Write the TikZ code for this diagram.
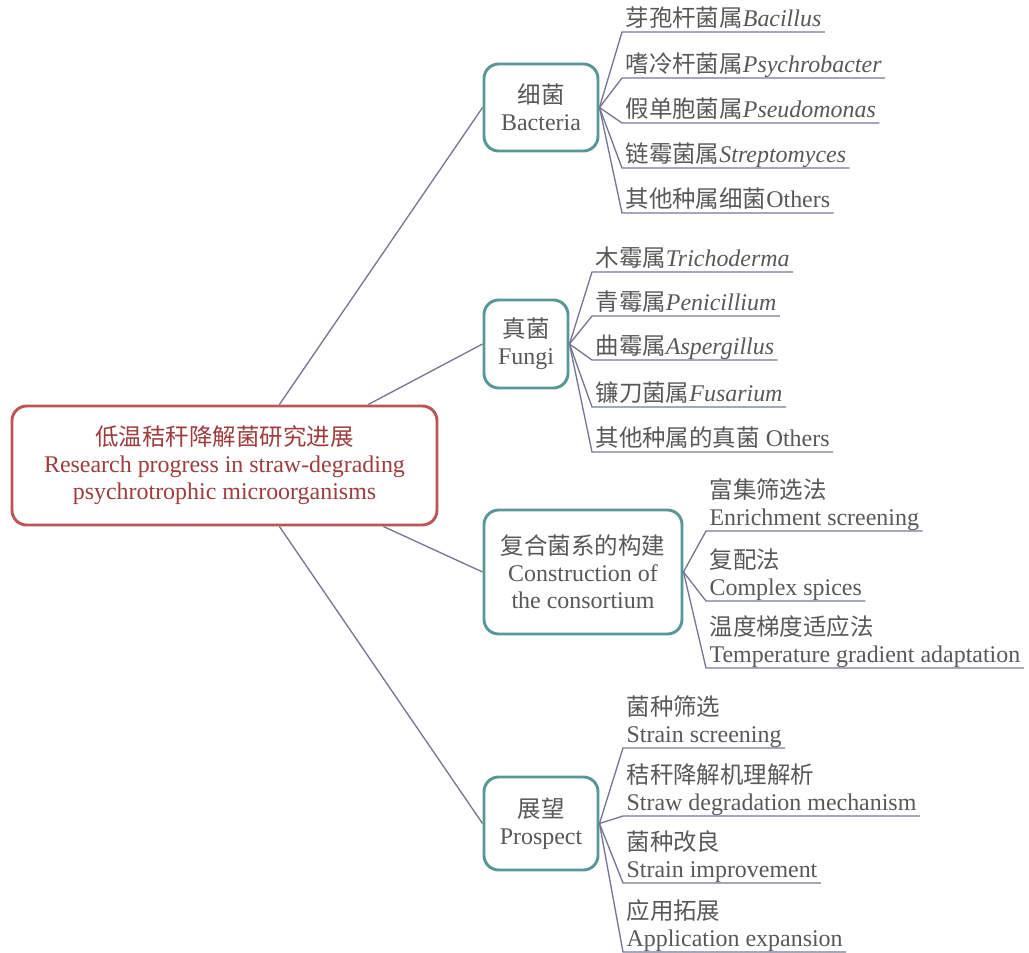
\documentclass[tikz,border=0pt]{standalone}
\usepackage{fontspec}
\setmainfont{Liberation Serif}
\newfontfamily\cjk[Scale=0.98]{Noto Sans CJK SC}
\newcommand\zh[1]{{\cjk #1}}
\definecolor{rootred}{RGB}{192,84,84}
\definecolor{roottext}{RGB}{158,60,62}
\definecolor{boxteal}{RGB}{88,150,152}
\definecolor{twiggray}{RGB}{116,120,150}
\definecolor{textgray}{RGB}{88,88,88}

\begin{document}
\begin{tikzpicture}[x=0.75pt, y=-0.75pt,
  every node/.style={font=\fontsize{17.95pt}{20.3pt}\selectfont, text=textgray},
  rootbox/.style={draw=rootred, line width=2.2pt, rounded corners=11pt, align=center,
    text=roottext, fill=white, inner sep=0pt},
  groupbox/.style={draw=boxteal, line width=2.2pt, rounded corners=11pt, align=center,
    fill=white, inner sep=0pt},
  leaf/.style={anchor=south west, align=left, inner xsep=2.5pt, inner ysep=0pt, text depth=3.6pt},
  limb/.style={draw=twiggray, line width=1pt},
  twig/.style={draw=twiggray, line width=1pt}]
  \useasboundingbox (0,0) rectangle (1029,953);

  % root and the four groups
  \node (root) [rootbox, minimum width=318.75pt, minimum height=89.25pt] at (224.5,465.5)
    {\zh{低温秸秆降解菌研究进展}\\Research progress in straw-degrading\\psychrotrophic microorganisms};
  \node (bac) [groupbox, minimum width=85.5pt, minimum height=65.25pt] at (541,107.5) {\zh{细菌}\\Bacteria};
  \node (fun) [groupbox, minimum width=63pt, minimum height=66pt] at (526,344) {\zh{真菌}\\Fungi};
  \node (con) [groupbox, minimum width=148.5pt, minimum height=93pt] at (583,572)
    {\zh{复合菌系的构建}\\Construction of\\the consortium};
  \node (pro) [groupbox, minimum width=85.5pt, minimum height=69.75pt] at (541,823.5) {\zh{展望}\\Prospect};

  \draw [limb] (root.48) -- (bac.west);
  \draw [limb] (root.23) -- (fun.west);
  \draw [limb] (root.-21) -- (con.west);
  \draw [limb] (root.-48) -- (pro.west);

  % bacteria
  \node (b1) [leaf] at (622,32) {\zh{芽孢杆菌属}\textit{Bacillus}};
  \node (b2) [leaf] at (622,78) {\zh{嗜冷杆菌属}\textit{Psychrobacter}};
  \node (b3) [leaf] at (622,123) {\zh{假单胞菌属}\textit{Pseudomonas}};
  \node (b4) [leaf] at (622,168) {\zh{链霉菌属}\textit{Streptomyces}};
  \node (b5) [leaf] at (622,213) {\zh{其他种属细菌}Others};
  \foreach \i in {1,...,5}
    \draw [twig] (bac.east) -- (b\i.south west) -- (b\i.south east);

  % fungi
  \node (f1) [leaf] at (592,272) {\zh{木霉属}\textit{Trichoderma}};
  \node (f2) [leaf] at (592,316) {\zh{青霉属}\textit{Penicillium}};
  \node (f3) [leaf] at (592,360) {\zh{曲霉属}\textit{Aspergillus}};
  \node (f4) [leaf] at (592,407) {\zh{镰刀菌属}\textit{Fusarium}};
  \node (f5) [leaf] at (592,452) {\zh{其他种属的真菌} Others};
  \foreach \i in {1,...,5}
    \draw [twig] (fun.east) -- (f\i.south west) -- (f\i.south east);

  % consortium
  \node (c1) [leaf] at (706,531) {\zh{富集筛选法}\\Enrichment screening};
  \node (c2) [leaf] at (706,601) {\zh{复配法}\\Complex spices};
  \node (c3) [leaf] at (706,668) {\zh{温度梯度适应法}\\Temperature gradient adaptation};
  \foreach \i in {1,...,3}
    \draw [twig] (con.east) -- (c\i.south west) -- (c\i.south east);

  % prospect
  \node (p1) [leaf] at (623,748) {\zh{菌种筛选}\\Strain screening};
  \node (p2) [leaf] at (623,816) {\zh{秸秆降解机理解析}\\Straw degradation mechanism};
  \node (p3) [leaf] at (623,883) {\zh{菌种改良}\\Strain improvement};
  \node (p4) [leaf] at (623,952) {\zh{应用拓展}\\Application expansion};
  \foreach \i in {1,...,4}
    \draw [twig] (pro.east) -- (p\i.south west) -- (p\i.south east);
\end{tikzpicture}
\end{document}
